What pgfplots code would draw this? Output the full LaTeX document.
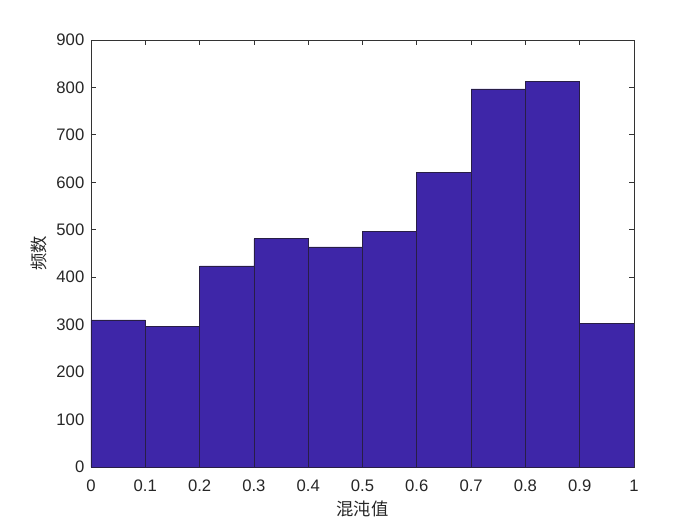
\documentclass[border=0pt]{standalone}
\usepackage{fontspec}
\setmainfont{Liberation Sans}
\newfontfamily\cjk{Noto Sans CJK SC}
\usepackage{pgfplots}
\pgfplotsset{compat=1.18}
\definecolor{BarFill}{RGB}{62,38,168}
\definecolor{BarEdge}{RGB}{40,30,70}

\begin{document}
\begin{tikzpicture}
  \useasboundingbox (-68.25pt,-43.5pt) rectangle (456.75pt,350.25pt);
  \begin{axis}[
      at={(0,0)}, anchor=south west,
      scale only axis,
      width=407.25pt, height=320.25pt,
      xmin=0, xmax=1, ymin=0, ymax=900,
      xtick={0,0.1,...,1.01},
      xticklabels={0,0.1,0.2,0.3,0.4,0.5,0.6,0.7,0.8,0.9,1},
      ytick={0,100,...,900},
      tick align=inside,
      tick pos=both,
      major tick length=3.75pt,
      axis line style={line width=0.6pt, black!80},
      every tick/.style={black!80, line width=0.6pt},
      tick label style={font=\fontsize{12.5}{14}\selectfont, text=black!85},
      xticklabel style={yshift=-6pt},
      yticklabel style={xshift=-1.5pt},
      /pgf/number format/assume math mode=true,
      xlabel={\cjk 混沌值},
      ylabel={\cjk 频数},
      label style={font=\cjk\fontsize{13}{15}\selectfont, text=black!85},
      xlabel style={yshift=0pt},
      ylabel style={yshift=0pt},
    ]
    \addplot[ybar interval, fill=BarFill, draw=BarEdge, line width=0.5pt]
      coordinates {(0,310) (0.1,297) (0.2,424) (0.3,481) (0.4,464)
                   (0.5,497) (0.6,621) (0.7,797) (0.8,813) (0.9,302) (1,302)};
  \end{axis}
\end{tikzpicture}
\end{document}
